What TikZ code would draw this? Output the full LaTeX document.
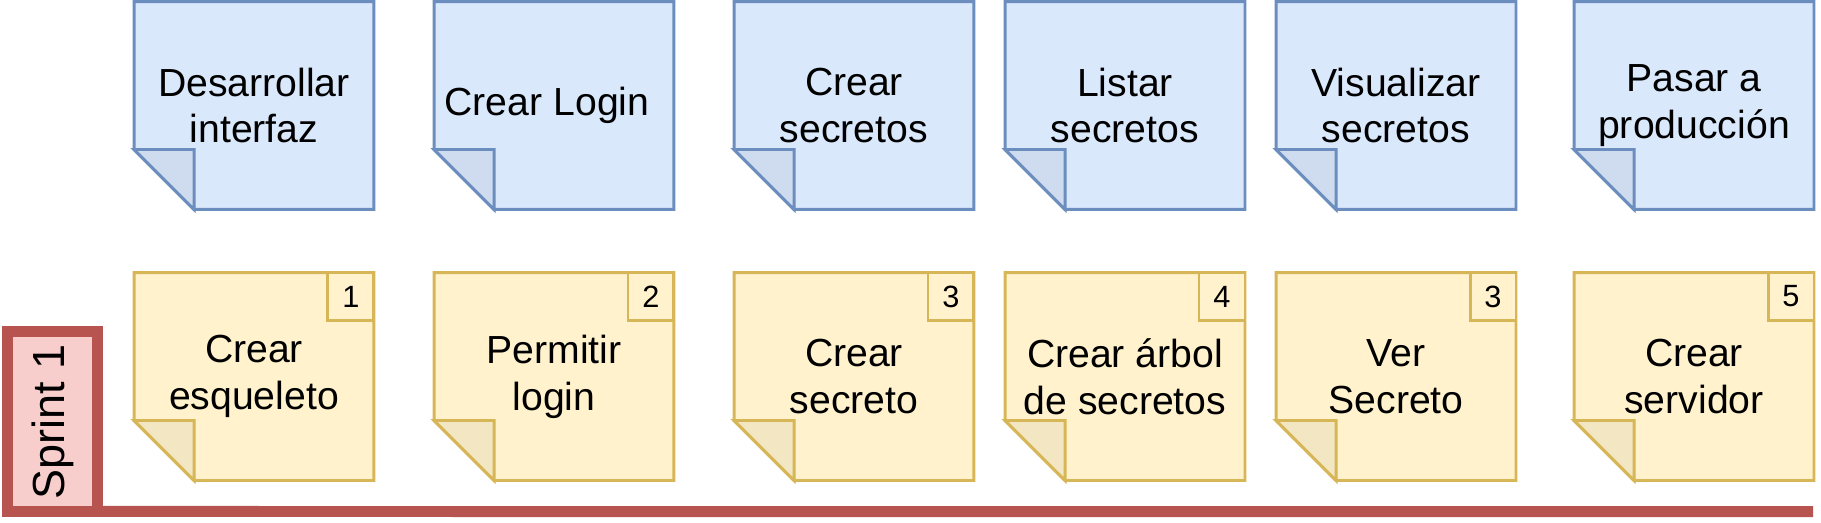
\documentclass[tikz,border=0pt]{standalone}
\usepackage{fontspec}
\setmainfont{Liberation Sans}
\usepackage{tikz}
\usetikzlibrary{backgrounds}
\definecolor{BFill}{HTML}{DAE8FC}
\definecolor{BLine}{HTML}{6C8EBF}
\definecolor{BFold}{HTML}{CFDCEF}
\definecolor{YFill}{HTML}{FFF2CC}
\definecolor{YLine}{HTML}{D6B656}
\definecolor{YFold}{HTML}{F2E6C3}
\definecolor{RFill}{HTML}{F8CECC}
\definecolor{RLine}{HTML}{B85450}

\begin{document}
\begin{tikzpicture}[x=0.02cm, y=-0.02cm,
  note/.style={minimum width=4.8cm, minimum height=4.16cm, inner sep=0pt,
               outer sep=0pt, align=center,
               font=\fontsize{22.3}{26.7}\selectfont},
  pts/.style={draw=YLine, fill=YFill, line width=1.7pt, anchor=north east,
              minimum width=0.92cm, minimum height=0.96cm, inner sep=0pt,
              outer sep=0pt, font=\fontsize{17.5}{20}\selectfont},
  bnote/.style={line width=1.7pt, draw=BLine, fill=BFill},
  bfold/.style={line width=1.7pt, draw=BLine, fill=BFold},
  ynote/.style={line width=1.7pt, draw=YLine, fill=YFill},
  yfold/.style={line width=1.7pt, draw=YLine, fill=YFold},
  sprint/.style={draw=RLine, fill=RFill, line width=0.22cm, rotate=90,
                 minimum width=3.6cm, minimum height=1.8cm, inner sep=0pt,
                 outer sep=0pt, font=\fontsize{25.6}{30}\selectfont},
  bar/.style={draw=RLine, line width=0.22cm},
]
\useasboundingbox (0,0) rectangle (1821,522);

% historias de usuario
\node[note] (hu1) at (254,105.5) {Desarrollar\\interfaz};
\node[note] (hu2) at (554,105.5) {\hspace*{-0.28cm}Crear Login};
\node[note] (hu3) at (854,105.5) {Crear\\secretos};
\node[note] (hu4) at (1125,105.5) {Listar\\secretos};
\node[note] (hu5) at (1396,105.5) {Visualizar\\secretos};
\node[note] (hu6) at (1694,105.5) {Pasar a\\producción};

% tareas
\node[note] (ta1) at (254,376.5) {Crear\\esqueleto};
\node[note] (ta2) at (554,376.5) {Permitir\\login};
\node[note] (ta3) at (854,376.5) {Crear\\secreto};
\node[note] (ta4) at (1125,376.5) {Crear árbol\\de secretos};
\node[note] (ta5) at (1396,376.5) {Ver\\Secreto};
\node[note] (ta6) at (1694,376.5) {Crear\\servidor};

\node[pts] (p1) at (ta1.north east) {1};
\node[pts] (p2) at (ta2.north east) {2};
\node[pts] (p3) at (ta3.north east) {3};
\node[pts] (p4) at (ta4.north east) {4};
\node[pts] (p5) at (ta5.north east) {3};
\node[pts] (p6) at (ta6.north east) {5};

% sprint
\node[sprint] (s1) at (52.5,421.5) {Sprint 1};
\coordinate (fin) at (1813,511.5);
\draw[bar] (s1.south west) -- (fin);

\begin{scope}[on background layer]
\foreach \n in {hu1,hu2,hu3,hu4,hu5,hu6} {
  \draw[bnote] (\n.north west) -- (\n.north east) -- (\n.south east)
    -- ([xshift=1.2cm]\n.south west) -- ([yshift=1.2cm]\n.south west) -- cycle;
  \draw[bfold] ([yshift=1.2cm]\n.south west) -- ([shift={(1.2cm,1.2cm)}]\n.south west)
    -- ([xshift=1.2cm]\n.south west) -- cycle;
}
\foreach \n in {ta1,ta2,ta3,ta4,ta5,ta6} {
  \draw[ynote] (\n.north west) -- (\n.north east) -- (\n.south east)
    -- ([xshift=1.2cm]\n.south west) -- ([yshift=1.2cm]\n.south west) -- cycle;
  \draw[yfold] ([yshift=1.2cm]\n.south west) -- ([shift={(1.2cm,1.2cm)}]\n.south west)
    -- ([xshift=1.2cm]\n.south west) -- cycle;
}
\end{scope}
\end{tikzpicture}
\end{document}
